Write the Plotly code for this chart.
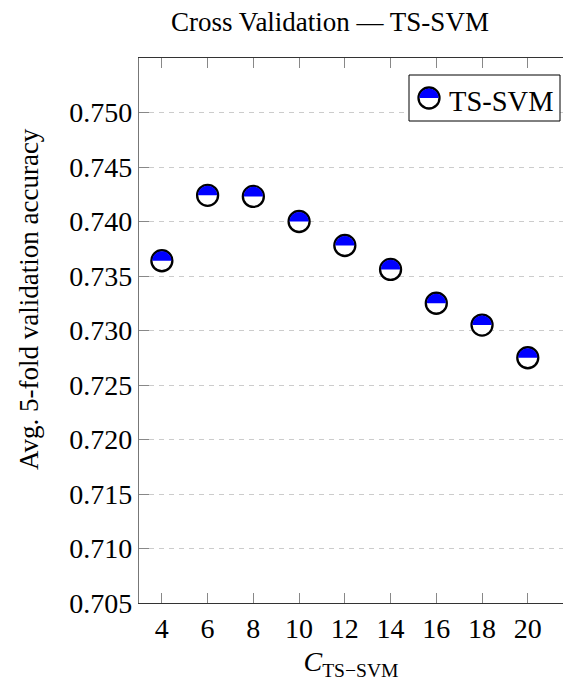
import plotly.graph_objects as go

C_values = [4, 6, 8, 10, 12, 14, 16, 18, 20]
accuracy = [0.7364, 0.7424, 0.7423, 0.7400, 0.7378, 0.7356, 0.7325, 0.7305, 0.7275]
series_name = "TS-SVM"
y_ticks = [0.705, 0.710, 0.715, 0.720, 0.725, 0.730, 0.735, 0.740, 0.745, 0.750]

BLUE = "#0000ff"
SERIF = "Liberation Serif"
W, H = 563, 681
ML, MR, MT, MB = 139, 0, 58, 78

R_IN = 9.6
k = 0.5523 * R_IN
half_path = (f"M {-R_IN},0 C {-R_IN},{k} {-k},{R_IN} 0,{R_IN} "
             f"C {k},{R_IN} {R_IN},{k} {R_IN},0 Z")

fig = go.Figure()
fig.add_trace(go.Scatter(
    x=C_values, y=accuracy, mode="markers", showlegend=False,
    marker=dict(symbol="circle", size=21, color="white",
                line=dict(color="black", width=2.3)),
))
# legend entry (icon drawn with shapes below)
fig.add_trace(go.Scatter(
    x=[None], y=[None], mode="markers", name=series_name,
    marker=dict(size=1, color="rgba(0,0,0,0)"),
))

shapes = []
for cx, cy in zip(C_values, accuracy):
    shapes.append(dict(type="path", xref="x", yref="y",
                       xsizemode="pixel", ysizemode="pixel",
                       xanchor=cx, yanchor=cy, path=half_path,
                       fillcolor=BLUE, line=dict(width=0), layer="above"))

# legend box background + icon
pw = W - ML - MR
ph = H - MT - MB
leg_right, leg_top, leg_left, leg_bot = 560, 75, 409, 121
lx0 = (leg_left - ML) / pw
lx1 = (leg_right - ML) / pw
ly1 = (H - MB - leg_top) / ph
ly0 = (H - MB - leg_bot) / ph
shapes.append(dict(type="rect", xref="paper", yref="paper",
                   x0=lx0, x1=lx1, y0=ly0, y1=ly1,
                   fillcolor="white", line=dict(color="black", width=1),
                   layer="above"))
icon_x = (429 - ML) / pw
icon_y = (H - MB - 98) / ph
shapes.append(dict(type="circle", xref="paper", yref="paper",
                   xsizemode="pixel", ysizemode="pixel",
                   xanchor=icon_x, yanchor=icon_y,
                   x0=-10.5, x1=10.5, y0=-10.5, y1=10.5,
                   fillcolor="white", line=dict(color="black", width=2.3),
                   layer="above"))
shapes.append(dict(type="path", xref="paper", yref="paper",
                   xsizemode="pixel", ysizemode="pixel",
                   xanchor=icon_x, yanchor=icon_y, path=half_path,
                   fillcolor=BLUE, line=dict(width=0), layer="above"))

fig.update_layout(
    width=W, height=H,
    margin=dict(l=ML, r=MR, t=MT, b=MB),
    paper_bgcolor="white", plot_bgcolor="white",
    shapes=shapes,
    title=dict(text="Cross Validation — TS-SVM", xref="container",
               x=330 / W, xanchor="center", yref="container",
               y=1 - 22 / H, yanchor="middle",
               font=dict(family=SERIF, size=27, color="black")),
    legend=dict(x=lx0, y=ly1, xanchor="left", yanchor="top",
                bgcolor="rgba(0,0,0,0)", borderwidth=0,
                font=dict(family=SERIF, size=28.5, color="black"),
                itemsizing="trace"),
    showlegend=True,
    annotations=[dict(text="Avg. 5-fold validation accuracy",
                      xref="paper", yref="paper",
                      x=-(ML - 29) / pw, y=(H - MB - 299) / ph,
                      xanchor="center", yanchor="middle", textangle=-90,
                      showarrow=False,
                      font=dict(family=SERIF, size=27, color="black"))],
)
fig.update_xaxes(
    range=[3.0, 21.54], tickmode="array", tickvals=C_values,
    ticks="inside", ticklen=10, tickcolor="#888", tickwidth=1,
    showline=True, linecolor="#333", linewidth=1.3, mirror="ticks",
    showgrid=False, zeroline=False,
    tickfont=dict(family=SERIF, size=28, color="black"),
    title=dict(text="<i>C</i><sub>TS−SVM</sub>", standoff=14,
               font=dict(family=SERIF, size=28, color="black")),
)
fig.update_yaxes(
    range=[0.705, 0.755], tickmode="array", tickvals=y_ticks,
    tickformat=".3f",
    ticks="inside", ticklen=10, tickcolor="#888", tickwidth=1,
    showline=True, linecolor="#777", linewidth=1.3, mirror=False,
    showgrid=True, gridcolor="#cccccc", gridwidth=1.2, griddash="5px,5px",
    zeroline=False,
    tickfont=dict(family=SERIF, size=28, color="black"),
)

fig.write_html("out.html")
